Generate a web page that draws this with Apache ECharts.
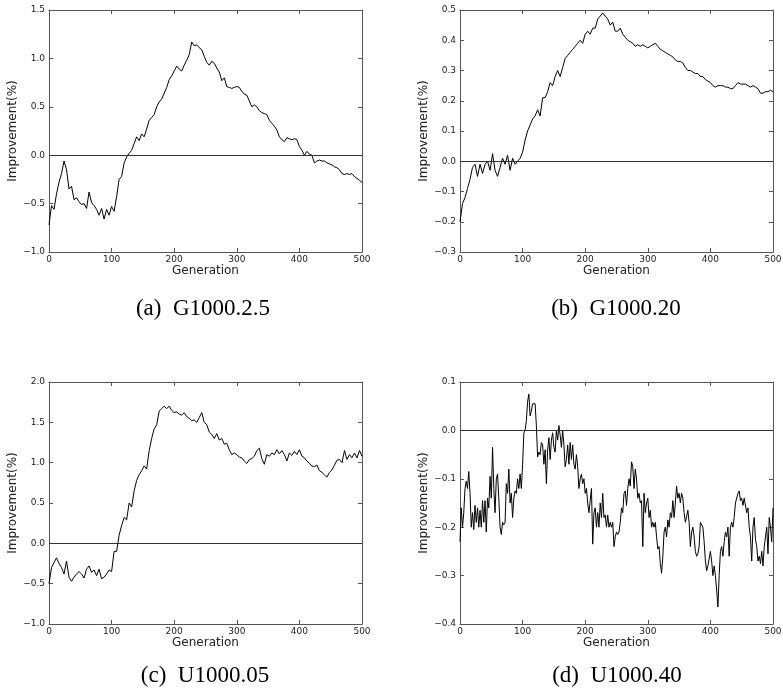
<!DOCTYPE html>
<html><head><meta charset="utf-8">
<script src="https://cdn.jsdelivr.net/npm/echarts@6/dist/echarts.min.js"></script>
<style>html,body{margin:0;padding:0;background:#fff}#c{width:783px;height:698px}</style>
</head><body><div id="c"></div>
<script>
// Generations sampled every 4 (panels a, b, c)
const gen4 = [
  0,4,8,12,16,20,24,28,32,36,
  40,44,48,52,56,60,64,68,72,76,
  80,84,88,92,96,100,104,108,112,116,
  120,124,128,132,136,140,144,148,152,156,
  160,164,168,172,176,180,184,188,192,196,
  200,204,208,212,216,220,224,228,232,236,
  240,244,248,252,256,260,264,268,272,276,
  280,284,288,292,296,300,304,308,312,316,
  320,324,328,332,336,340,344,348,352,356,
  360,364,368,372,376,380,384,388,392,396,
  400,404,408,412,416,420,424,428,432,436,
  440,444,448,452,456,460,464,468,472,476,
  480,484,488,492,496,500
];
// Generations sampled every 2 (panel d)
const gen2 = [
  0,2,4,6,8,10,12,14,16,18,
  20,22,24,26,28,30,32,34,36,38,
  40,42,44,46,48,50,52,54,56,58,
  60,62,64,66,68,70,72,74,76,78,
  80,82,84,86,88,90,92,94,96,98,
  100,102,104,106,108,110,112,114,116,118,
  120,122,124,126,128,130,132,134,136,138,
  140,142,144,146,148,150,152,154,156,158,
  160,162,164,166,168,170,172,174,176,178,
  180,182,184,186,188,190,192,194,196,198,
  200,202,204,206,208,210,212,214,216,218,
  220,222,224,226,228,230,232,234,236,238,
  240,242,244,246,248,250,252,254,256,258,
  260,262,264,266,268,270,272,274,276,278,
  280,282,284,286,288,290,292,294,296,298,
  300,302,304,306,308,310,312,314,316,318,
  320,322,324,326,328,330,332,334,336,338,
  340,342,344,346,348,350,352,354,356,358,
  360,362,364,366,368,370,372,374,376,378,
  380,382,384,386,388,390,392,394,396,398,
  400,402,404,406,408,410,412,414,416,418,
  420,422,424,426,428,430,432,434,436,438,
  440,442,444,446,448,450,452,454,456,458,
  460,462,464,466,468,470,472,474,476,478,
  480,482,484,486,488,490,492,494,496,498,
  500
];
// (a) G1000.2.5
const impA = [
  -0.72,-0.52,-0.56,-0.40,-0.28,-0.19,-0.06,-0.15,-0.35,-0.32,
  -0.46,-0.44,-0.48,-0.51,-0.50,-0.55,-0.38,-0.49,-0.52,-0.56,
  -0.62,-0.55,-0.66,-0.56,-0.62,-0.53,-0.58,-0.43,-0.25,-0.22,
  -0.08,-0.02,0.02,0.05,0.12,0.19,0.15,0.22,0.19,0.27,
  0.36,0.39,0.42,0.50,0.55,0.58,0.64,0.70,0.78,0.82,
  0.87,0.92,0.89,0.87,0.93,0.98,1.04,1.17,1.13,1.14,
  1.11,1.09,1.02,0.96,0.93,0.97,0.95,0.90,0.86,0.77,
  0.80,0.71,0.70,0.69,0.70,0.71,0.70,0.66,0.63,0.62,
  0.56,0.50,0.52,0.50,0.46,0.44,0.43,0.42,0.36,0.33,
  0.30,0.26,0.19,0.16,0.14,0.18,0.17,0.16,0.17,0.16,
  0.09,0.05,0.00,0.04,0.01,0.00,-0.08,-0.06,-0.05,-0.06,
  -0.06,-0.08,-0.09,-0.10,-0.12,-0.13,-0.15,-0.19,-0.20,-0.19,
  -0.20,-0.19,-0.22,-0.24,-0.26,-0.28
];
// (b) G1000.20
const impB = [
  -0.20,-0.14,-0.12,-0.09,-0.06,-0.02,-0.01,-0.05,-0.01,-0.04,
  -0.01,0.00,-0.03,0.025,-0.03,-0.05,-0.02,0.01,-0.01,0.02,
  -0.03,0.01,-0.01,0.00,0.01,0.03,0.07,0.10,0.12,0.14,
  0.15,0.17,0.15,0.21,0.21,0.23,0.26,0.25,0.28,0.30,
  0.28,0.31,0.34,0.35,0.36,0.37,0.38,0.39,0.40,0.39,
  0.42,0.43,0.42,0.44,0.44,0.47,0.48,0.49,0.48,0.47,
  0.45,0.46,0.43,0.43,0.44,0.42,0.41,0.40,0.395,0.39,
  0.38,0.385,0.38,0.385,0.38,0.375,0.38,0.385,0.39,0.38,
  0.37,0.365,0.36,0.355,0.35,0.345,0.335,0.33,0.33,0.325,
  0.31,0.30,0.30,0.295,0.29,0.29,0.28,0.28,0.27,0.265,
  0.26,0.25,0.245,0.25,0.25,0.25,0.245,0.245,0.24,0.24,
  0.25,0.26,0.255,0.255,0.255,0.25,0.245,0.25,0.245,0.24,
  0.225,0.225,0.23,0.23,0.235,0.23
];
// (c) U1000.05
const impC = [
  -0.50,-0.30,-0.24,-0.18,-0.25,-0.30,-0.38,-0.22,-0.42,-0.47,
  -0.42,-0.38,-0.35,-0.38,-0.43,-0.32,-0.28,-0.36,-0.33,-0.40,
  -0.32,-0.44,-0.42,-0.38,-0.33,-0.35,-0.10,-0.10,0.10,0.22,
  0.32,0.29,0.50,0.45,0.65,0.78,0.85,0.90,0.96,0.92,
  1.15,1.30,1.42,1.47,1.64,1.67,1.70,1.67,1.70,1.65,
  1.62,1.63,1.60,1.59,1.62,1.57,1.55,1.52,1.53,1.50,
  1.56,1.62,1.50,1.47,1.38,1.35,1.30,1.36,1.28,1.30,
  1.23,1.24,1.16,1.10,1.12,1.10,1.07,1.06,1.02,0.99,
  1.04,1.05,1.08,1.15,1.18,1.05,0.98,1.10,1.08,1.12,
  1.10,1.16,1.11,1.15,1.10,1.02,1.12,1.09,1.14,1.10,
  1.16,1.08,1.06,1.02,0.99,0.96,0.95,0.97,0.90,0.88,
  0.85,0.82,0.88,0.91,0.97,1.03,1.04,1.00,1.15,1.04,
  1.10,1.06,1.12,1.06,1.15,1.08
];
// (d) U1000.40
const impD = [
  -0.23,-0.16,-0.20,-0.17,-0.12,-0.105,-0.12,-0.085,-0.13,-0.20,
  -0.17,-0.205,-0.155,-0.19,-0.16,-0.20,-0.165,-0.20,-0.145,-0.19,
  -0.145,-0.21,-0.14,-0.16,-0.095,-0.14,-0.035,-0.12,-0.17,-0.10,
  -0.09,-0.14,-0.20,-0.215,-0.19,-0.195,-0.19,-0.11,-0.13,-0.08,
  -0.15,-0.13,-0.18,-0.14,-0.125,-0.13,-0.10,-0.12,-0.09,-0.12,
  -0.07,-0.005,0.00,0.02,0.06,0.075,0.03,0.04,0.055,0.055,
  0.055,0.01,-0.055,-0.045,-0.05,-0.025,-0.03,-0.07,-0.04,-0.11,
  -0.04,-0.015,-0.06,-0.02,-0.005,-0.035,-0.045,0.00,-0.02,0.01,
  -0.01,-0.035,0.00,-0.03,-0.075,-0.06,-0.03,-0.07,-0.025,-0.06,
  -0.03,-0.07,-0.08,-0.05,-0.075,-0.12,-0.10,-0.09,-0.11,-0.10,
  -0.13,-0.12,-0.15,-0.17,-0.145,-0.12,-0.235,-0.17,-0.16,-0.20,
  -0.17,-0.20,-0.15,-0.18,-0.13,-0.18,-0.175,-0.20,-0.175,-0.20,
  -0.19,-0.20,-0.19,-0.24,-0.22,-0.21,-0.215,-0.21,-0.19,-0.16,
  -0.17,-0.13,-0.125,-0.155,-0.12,-0.10,-0.115,-0.065,-0.075,-0.12,
  -0.08,-0.10,-0.14,-0.13,-0.15,-0.145,-0.24,-0.13,-0.17,-0.15,
  -0.14,-0.18,-0.165,-0.20,-0.19,-0.20,-0.19,-0.22,-0.245,-0.24,
  -0.275,-0.295,-0.26,-0.21,-0.20,-0.22,-0.185,-0.20,-0.17,-0.18,
  -0.145,-0.18,-0.15,-0.115,-0.14,-0.13,-0.15,-0.13,-0.14,-0.17,
  -0.19,-0.19,-0.165,-0.19,-0.24,-0.21,-0.20,-0.22,-0.25,-0.26,
  -0.255,-0.24,-0.19,-0.19,-0.20,-0.23,-0.27,-0.29,-0.28,-0.28,
  -0.25,-0.27,-0.30,-0.28,-0.30,-0.33,-0.365,-0.30,-0.25,-0.24,
  -0.26,-0.23,-0.21,-0.22,-0.20,-0.26,-0.20,-0.19,-0.20,-0.18,
  -0.15,-0.15,-0.13,-0.125,-0.145,-0.14,-0.155,-0.14,-0.14,-0.17,
  -0.16,-0.20,-0.22,-0.27,-0.20,-0.18,-0.225,-0.24,-0.27,-0.26,
  -0.275,-0.25,-0.28,-0.24,-0.22,-0.20,-0.255,-0.18,-0.20,-0.23,
  -0.16
];
const captions = ['(a)  G1000.2.5', '(b)  G1000.20', '(c)  U1000.05', '(d)  U1000.40'];
const yRanges = [[-1.0, 1.5, 0.5], [-0.3, 0.5, 0.1], [-1.0, 2.0, 0.5], [-0.4, 0.1, 0.1]];
const xName = 'Generation';
const yName = 'Improvement(%)';

const panels = [
  {gens: gen4, vals: impA, left: 49, top: 10, cx: 203, cy: 309},
  {gens: gen4, vals: impB, left: 460, top: 10, cx: 616, cy: 309},
  {gens: gen4, vals: impC, left: 49, top: 382, cx: 205, cy: 676},
  {gens: gen2, vals: impD, left: 460, top: 382, cx: 617, cy: 676}
];

const FRAME = '#555';
const FONT = '"DejaVu Sans", sans-serif';
function fmt(v) {
  if (Math.abs(v) < 1e-9) return '0.0';
  return v.toFixed(1).replace('-', '\u2212');
}

const grid = [], xAxis = [], yAxis = [], series = [], graphic = [];
panels.forEach((p, i) => {
  const [ymin, ymax, step] = yRanges[i];
  grid.push({left: p.left, top: p.top, width: 313, height: 242, outerBoundsMode: 'none', containLabel: false});
  const tick = {show: true, inside: true, length: 4, lineStyle: {color: FRAME, width: 1}};
  const line = {show: true, onZero: false, lineStyle: {color: FRAME, width: 1}};
  xAxis.push({
    type: 'value', gridIndex: i, min: 0, max: 500, interval: 100, position: 'bottom',
    axisLine: line, axisTick: tick, splitLine: {show: false},
    axisLabel: {margin: 3, fontSize: 9, color: '#222', fontFamily: FONT},
    name: xName, nameLocation: 'middle', nameGap: 12,
    nameTextStyle: {fontSize: 12, color: '#222', fontFamily: FONT}
  });
  xAxis.push({
    type: 'value', gridIndex: i, min: 0, max: 500, interval: 100, position: 'top',
    axisLine: line, axisTick: tick, splitLine: {show: false}, axisLabel: {show: false}
  });
  yAxis.push({
    type: 'value', gridIndex: i, min: ymin, max: ymax, interval: step, position: 'left',
    axisLine: line, axisTick: tick, splitLine: {show: false},
    axisLabel: {margin: 4, fontSize: 9, color: '#222', fontFamily: FONT, formatter: fmt},
    name: yName, nameLocation: 'middle', nameGap: 28, nameRotate: 90,
    nameTextStyle: {fontSize: 12, color: '#222', fontFamily: FONT}
  });
  yAxis.push({
    type: 'value', gridIndex: i, min: ymin, max: ymax, interval: step, position: 'right',
    axisLine: line, axisTick: tick, splitLine: {show: false}, axisLabel: {show: false}
  });
  series.push({
    type: 'line', xAxisIndex: i * 2, yAxisIndex: i * 2,
    data: p.gens.map((g, k) => [g, p.vals[k]]),
    showSymbol: false, symbol: 'none', silent: true,
    lineStyle: {color: '#000', width: 1},
    markLine: {
      silent: true, symbol: ['none', 'none'], label: {show: false},
      lineStyle: {color: '#333', width: 1, type: 'solid'},
      emphasis: {disabled: true},
      data: [{yAxis: 0}]
    }
  });
  graphic.push({
    type: 'text', x: p.cx, y: p.cy, silent: true,
    style: {
      text: captions[i], fill: '#000', align: 'center', verticalAlign: 'middle',
      font: '23px "Liberation Serif", "Times New Roman", serif'
    }
  });
});

const chart = echarts.init(document.getElementById('c'), null, {renderer: 'canvas'});
chart.setOption({animation: false, backgroundColor: '#fff', grid, xAxis, yAxis, series, graphic});
</script>
</body></html>
